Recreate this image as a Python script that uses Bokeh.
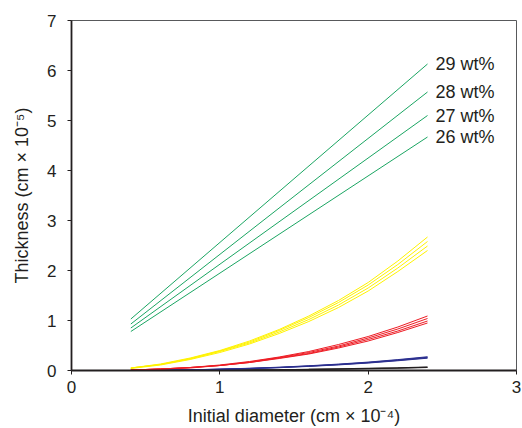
from bokeh.plotting import figure
from bokeh.models import ColumnDataSource, FixedTicker
from bokeh.core.properties import value
from bokeh.embed import file_html
from bokeh.resources import INLINE

# ---- data ----
x_vals = [0.4, 0.6, 0.8, 1.0, 1.2, 1.4, 1.6, 1.8, 2.0, 2.2, 2.4]

green_x = [0.4, 2.4]
green_29 = [1.03, 6.13]
green_28 = [0.93, 5.57]
green_27 = [0.85, 5.10]
green_26 = [0.78, 4.67]
green_labels = ["29 wt%", "28 wt%", "27 wt%", "26 wt%"]

yellow_1 = [0.05, 0.13, 0.25, 0.40, 0.59, 0.82, 1.09, 1.40, 1.76, 2.19, 2.67]
yellow_2 = [0.05, 0.12, 0.24, 0.39, 0.57, 0.80, 1.06, 1.36, 1.71, 2.12, 2.58]
yellow_3 = [0.05, 0.12, 0.23, 0.38, 0.55, 0.77, 1.02, 1.31, 1.65, 2.05, 2.49]
yellow_4 = [0.04, 0.11, 0.22, 0.36, 0.53, 0.74, 0.98, 1.26, 1.59, 1.98, 2.40]

red_1 = [0.01, 0.03, 0.06, 0.11, 0.18, 0.27, 0.38, 0.52, 0.68, 0.87, 1.09]
red_2 = [0.01, 0.03, 0.06, 0.10, 0.17, 0.26, 0.36, 0.49, 0.65, 0.83, 1.04]
red_3 = [0.01, 0.03, 0.06, 0.10, 0.16, 0.25, 0.34, 0.47, 0.62, 0.79, 0.99]
red_4 = [0.01, 0.03, 0.05, 0.10, 0.16, 0.24, 0.33, 0.45, 0.59, 0.76, 0.95]

blue_1 = [0.00, 0.006, 0.014, 0.028, 0.045, 0.066, 0.095, 0.128, 0.168, 0.218, 0.275]
blue_2 = [0.00, 0.005, 0.013, 0.026, 0.042, 0.062, 0.090, 0.122, 0.161, 0.210, 0.265]
blue_3 = [0.00, 0.005, 0.012, 0.024, 0.040, 0.059, 0.086, 0.117, 0.155, 0.202, 0.255]
blue_4 = [0.00, 0.004, 0.011, 0.022, 0.037, 0.056, 0.082, 0.112, 0.149, 0.195, 0.246]

black_1 = [0.0, 0.001, 0.003, 0.006, 0.010, 0.015, 0.022, 0.031, 0.041, 0.053, 0.068]
black_2 = [0.0, 0.001, 0.002, 0.005, 0.009, 0.014, 0.020, 0.028, 0.038, 0.049, 0.062]

x_ticks = [0, 1, 2, 3]
y_ticks = [0, 1, 2, 3, 4, 5, 6, 7]

# ---- styling ----
FONT = "Liberation Sans"
TXT = "#231f20"
GREEN = "#1aa562"
YELLOW = "#fff200"
RED = "#ed1c24"
BLUE = "#2b2f8f"
BLACK = "#231f20"

p = figure(width=522, height=428, x_range=(0, 3), y_range=(0, 7),
           output_backend="svg", toolbar_location=None,
           min_border_left=71, min_border_top=20, min_border_right=6,
           min_border_bottom=57)
p.grid.visible = False
p.outline_line_color = "#58595b"
p.outline_line_width = 1
p.background_fill_color = "white"
p.border_fill_color = "white"

for ys in [black_1, black_2]:
    p.line(x_vals, ys, line_color=BLACK, line_width=1.3)
for ys in [blue_1, blue_2, blue_3, blue_4]:
    p.line(x_vals, ys, line_color=BLUE, line_width=1)
for ys in [red_1, red_2, red_3, red_4]:
    p.line(x_vals, ys, line_color=RED, line_width=1)
for ys in [yellow_1, yellow_2, yellow_3, yellow_4]:
    p.line(x_vals, ys, line_color=YELLOW, line_width=1)
green_series = [green_29, green_28, green_27, green_26]
for ys in green_series:
    p.line(green_x, ys, line_color=GREEN, line_width=1)

lab_src = ColumnDataSource(dict(
    x=[green_x[-1] + 0.054] * len(green_series),
    y=[s[-1] for s in green_series],
    t=green_labels))
p.text(x="x", y="y", text="t", source=lab_src, text_font=value(FONT),
       text_font_size="18px", text_color=TXT, text_align="left",
       text_baseline="middle")

p.xaxis.ticker = FixedTicker(ticks=x_ticks)
p.yaxis.ticker = FixedTicker(ticks=y_ticks)
p.xaxis.axis_label = "Initial diameter (cm × 10⁻⁴)"
p.yaxis.axis_label = "Thickness (cm × 10⁻⁵)"
for ax in [p.xaxis[0], p.yaxis[0]]:
    ax.axis_line_color = TXT
    ax.axis_line_width = 1.8
    ax.major_tick_line_color = TXT
    ax.major_tick_out = 4
    ax.major_tick_in = 0
    ax.minor_tick_out = 0
    ax.minor_tick_in = 0
    ax.major_label_text_font = FONT
    ax.major_label_text_font_size = "17px"
    ax.major_label_text_color = TXT
    ax.axis_label_text_font = FONT
    ax.axis_label_text_font_size = "18px"
    ax.axis_label_text_font_style = "normal"
    ax.axis_label_text_color = TXT
p.xaxis.major_label_standoff = 6
p.xaxis.axis_label_standoff = 10
p.yaxis.major_label_standoff = 11
p.yaxis.axis_label_standoff = 12

open("out.html", "w").write(file_html(p, INLINE))
